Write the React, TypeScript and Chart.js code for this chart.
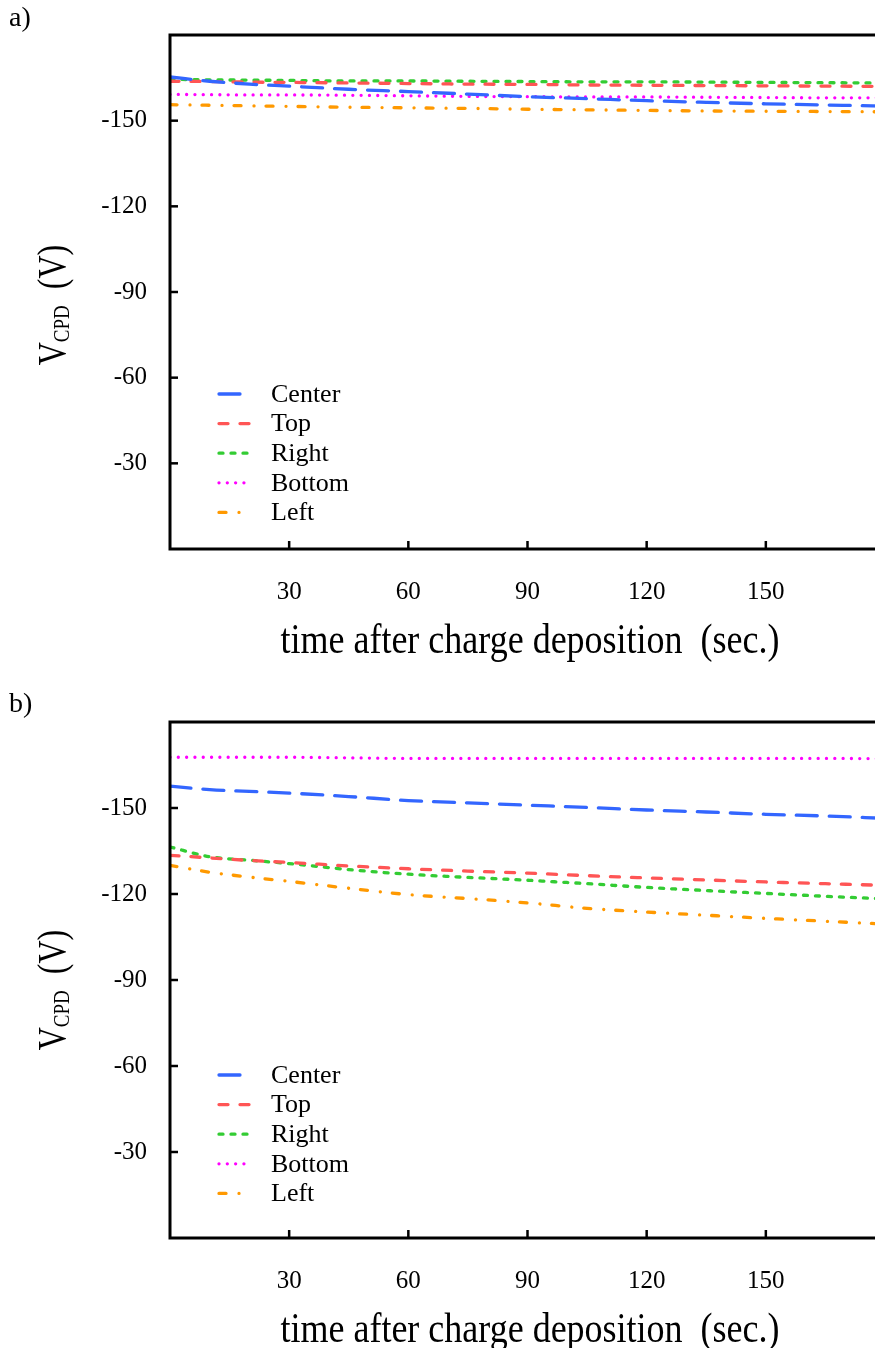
import React, { useEffect, useRef } from "react";
import { Chart, registerables } from "chart.js";
Chart.register(...registerables);

// ---------- data ----------
const timeSec = [0, 10, 20, 30, 45, 60, 75, 90, 105, 120, 135, 150, 165, 180];

const seriesLabels = ["Center", "Top", "Right", "Bottom", "Left"];

// panel a)
const centerA = [-165.3, -163.8, -162.8, -162.1, -161.0, -160.2, -159.3, -158.4, -157.7, -157.0, -156.4, -155.9, -155.5, -155.1];
const topA = [-163.8, -163.7, -163.5, -163.4, -163.2, -163.0, -162.8, -162.7, -162.5, -162.4, -162.3, -162.2, -162.1, -162.0];
const rightA = [-164.5, -164.3, -164.2, -164.1, -163.9, -163.9, -163.8, -163.7, -163.6, -163.6, -163.5, -163.4, -163.3, -163.2];
const bottomA = [-159.2, -159.1, -159.0, -159.0, -158.9, -158.7, -158.5, -158.4, -158.3, -158.3, -158.2, -158.1, -158.0, -158.0];
const leftA = [-155.6, -155.4, -155.2, -155.0, -154.7, -154.5, -154.3, -154.0, -153.8, -153.6, -153.4, -153.3, -153.2, -153.1];

// panel b)
const centerB = [-157.6, -156.4, -155.8, -155.2, -154.0, -152.6, -151.8, -151.0, -150.2, -149.3, -148.6, -147.8, -147.2, -146.4];
const topB = [-133.5, -132.6, -131.7, -131.0, -129.8, -128.8, -128.0, -127.3, -126.4, -125.6, -124.9, -124.2, -123.6, -123.0];
const rightB = [-136.4, -133.0, -131.8, -130.6, -128.5, -126.9, -125.8, -124.8, -123.6, -122.3, -121.2, -120.2, -119.2, -118.3];
const bottomB = [-167.7, -167.7, -167.7, -167.7, -167.5, -167.3, -167.3, -167.3, -167.3, -167.3, -167.3, -167.3, -167.3, -167.2];
const leftB = [-130.0, -127.6, -125.9, -124.4, -122.0, -119.8, -118.4, -116.9, -115.0, -113.7, -112.6, -111.5, -110.5, -109.5];

const xTickValues = [30, 60, 90, 120, 150];
const yTickValues = [-150, -120, -90, -60, -30];

const xTitle = "time after charge deposition  (sec.)";
const yTitleMain = "V";
const yTitleSub = "CPD";
const yTitleUnit = "  (V)";

// ---------- styles ----------
const seriesColors = ["#3366ff", "#ff5555", "#33cc33", "#ff00ff", "#ff9900"];
const seriesDashes = [[21, 12], [9, 12], [4, 8], [0.01, 8.3], [7, 13, 0.01, 12]];
const SERIF = '"Liberation Serif", "Times New Roman", serif';

type PanelProps = {
  tag: string;
  series: number[][];
  width: number;
  height: number;
  plotTop: number;
  plotBottom: number;
  plotLeft: number;
  plotRight: number;
  tagBaseline: number;
  legendOffset: number;
  yTitleShift: number;
};

function Panel(p: PanelProps) {
  const ref = useRef<HTMLCanvasElement | null>(null);
  useEffect(() => {
    if (!ref.current) return;
    const deco = {
      id: "deco",
      afterDraw(chart: any) {
        const { ctx, chartArea: a, scales } = chart;
        ctx.save();
        const line = (x1: number, y1: number, x2: number, y2: number) => {
          ctx.beginPath();
          ctx.moveTo(x1, y1);
          ctx.lineTo(x2, y2);
          ctx.stroke();
        };
        // frame
        ctx.strokeStyle = "#000";
        ctx.lineWidth = 3;
        ctx.setLineDash([]);
        ctx.strokeRect(a.left, a.top, a.right - a.left, a.bottom - a.top);
        // inward ticks
        ctx.lineWidth = 2.5;
        xTickValues.forEach((v) => {
          const px = scales.x.getPixelForValue(v);
          line(px, a.bottom, px, a.bottom - 8);
        });
        yTickValues.forEach((v) => {
          const py = scales.y.getPixelForValue(v);
          line(a.left, py, a.left + 8, py);
        });
        // legend
        chart.data.datasets.forEach((ds: any, i: number) => {
          const y = a.top + p.legendOffset + i * 29.6;
          ctx.strokeStyle = ds.borderColor;
          ctx.lineWidth = ds.borderWidth;
          ctx.lineCap = "round";
          ctx.setLineDash(ds.borderDash);
          line(a.left + 49, y, a.left + 79, y);
          ctx.setLineDash([]);
          ctx.fillStyle = "#000";
          ctx.font = `26px ${SERIF}`;
          ctx.textBaseline = "middle";
          ctx.textAlign = "left";
          ctx.fillText(ds.label, a.left + 101, y + 1);
        });
        // panel tag
        ctx.fillStyle = "#000";
        ctx.font = `28px ${SERIF}`;
        ctx.textBaseline = "alphabetic";
        ctx.textAlign = "left";
        ctx.fillText(p.tag, 9, p.tagBaseline);
        // x title
        ctx.save();
        ctx.translate(a.left + 360, a.bottom + 93);
        ctx.scale(1, 1.15);
        ctx.font = `36px ${SERIF}`;
        ctx.textAlign = "center";
        ctx.textBaseline = "middle";
        ctx.fillText(xTitle, 0, 0);
        ctx.restore();
        // y title (rotated, with subscript)
        ctx.save();
        ctx.translate(a.left - 105, (a.top + a.bottom) / 2 + p.yTitleShift);
        ctx.rotate(-Math.PI / 2);
        ctx.scale(1, 1.25);
        const big = `32px ${SERIF}`;
        const small = `19px ${SERIF}`;
        ctx.font = big;
        const w1 = ctx.measureText(yTitleMain).width;
        const w3 = ctx.measureText(yTitleUnit).width;
        ctx.font = small;
        const w2 = ctx.measureText(yTitleSub).width;
        let x = -(w1 + w2 + w3) / 2;
        ctx.textAlign = "left";
        ctx.textBaseline = "alphabetic";
        ctx.font = big;
        ctx.fillText(yTitleMain, x, 0);
        x += w1;
        ctx.font = small;
        ctx.fillText(yTitleSub, x, 3);
        x += w2;
        ctx.font = big;
        ctx.fillText(yTitleUnit, x, 0);
        ctx.restore();
        ctx.restore();
      },
    };

    const chart = new Chart(ref.current, {
      type: "line",
      data: {
        datasets: seriesLabels.map((label, i) => ({
          label,
          data: timeSec.map((t, j) => ({ x: t, y: p.series[i][j] })),
          borderColor: seriesColors[i],
          backgroundColor: seriesColors[i],
          borderWidth: 3.3,
          borderDash: seriesDashes[i],
          borderCapStyle: "round",
          pointRadius: 0,
          cubicInterpolationMode: "monotone",
          fill: false,
        })),
      },
      options: {
        animation: false,
        responsive: false,
        devicePixelRatio: 1,
        layout: {
          padding: { top: p.plotTop, right: p.width - p.plotRight, left: 0, bottom: 0 },
        },
        plugins: { legend: { display: false }, tooltip: { enabled: false }, title: { display: false } },
        scales: {
          x: {
            type: "linear",
            min: 0,
            max: 180,
            grid: { display: false },
            border: { display: false },
            ticks: {
              stepSize: 30,
              padding: 20,
              color: "#000",
              font: { family: SERIF, size: 25 },
              maxRotation: 0,
              callback: (v: any) => (v === 0 || v === 180 ? "" : String(v)),
            },
            afterFit: (s: any) => {
              s.height = p.height - p.plotBottom;
            },
          },
          y: {
            type: "linear",
            min: -180,
            max: 0,
            reverse: true,
            grid: { display: false },
            border: { display: false },
            ticks: {
              stepSize: 30,
              padding: 15,
              color: "#000",
              font: { family: SERIF, size: 25 },
              callback: (v: any) => (v === 0 || v === -180 ? "" : String(v)),
            },
            afterFit: (s: any) => {
              s.width = p.plotLeft;
            },
          },
        },
      },
      plugins: [deco],
    } as any);
    return () => chart.destroy();
  }, []);
  return (
    <canvas
      ref={ref}
      width={p.width}
      height={p.height}
      style={{ display: "block", width: p.width, height: p.height }}
    />
  );
}

export default function App() {
  return (
    <div
      style={{
        position: "absolute",
        left: 0,
        top: 0,
        width: 875,
        height: 1348,
        overflow: "hidden",
        background: "#fff",
      }}
    >
      <div style={{ position: "absolute", left: 0, top: 0 }}>
        <Panel
          tag="a)"
          series={[centerA, topA, rightA, bottomA, leftA]}
          width={910}
          height={680}
          plotTop={35}
          plotBottom={549}
          plotLeft={170}
          plotRight={885}
          tagBaseline={26}
          legendOffset={359}
          yTitleShift={13}
        />
      </div>
      <div style={{ position: "absolute", left: 0, top: 680 }}>
        <Panel
          tag="b)"
          series={[centerB, topB, rightB, bottomB, leftB]}
          width={910}
          height={668}
          plotTop={42}
          plotBottom={558}
          plotLeft={170}
          plotRight={885}
          tagBaseline={32}
          legendOffset={353}
          yTitleShift={10}
        />
      </div>
    </div>
  );
}
